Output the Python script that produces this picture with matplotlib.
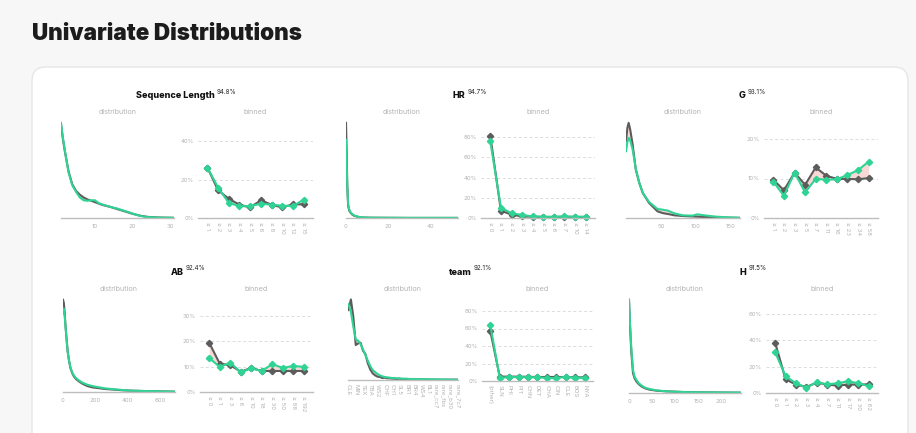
import numpy as np
import matplotlib
matplotlib.use('Agg')
import matplotlib.pyplot as plt
from matplotlib.patches import FancyBboxPatch

plt.rcParams['font.family'] = ['Inter', 'DejaVu Sans']

W, H = 916, 433
GRAY = '#5c5c5c'
GREEN = '#2fd394'
FILL = '#f8d8d4'
LIGHT = '#b3b3b3'

# ---------------- data ----------------
# Sequence Length
seq_x = [1, 1.5, 2, 3, 4, 5, 6, 7, 8, 9, 10, 11, 12, 14, 16, 18, 20, 22, 24, 27, 31]
seq_gray = [1.0, 0.85, 0.72, 0.5, 0.36, 0.29, 0.25, 0.22, 0.2, 0.185, 0.17, 0.155, 0.14,
            0.12, 0.095, 0.07, 0.045, 0.025, 0.012, 0.005, 0.002]
seq_green = [1.02, 0.86, 0.73, 0.49, 0.35, 0.28, 0.22, 0.19, 0.185, 0.19, 0.19, 0.16, 0.145,
             0.12, 0.1, 0.075, 0.048, 0.022, 0.01, 0.004, 0.002]
seq_bins = ['≥ 1', '≥ 2', '≥ 3', '≥ 4', '≥ 5', '≥ 6', '≥ 8', '≥ 10', '≥ 12', '≥ 15']
seq_bin_gray = [26.2, 14.4, 10.0, 6.9, 5.5, 9.2, 6.9, 5.5, 7.1, 7.1]
seq_bin_green = [26.2, 15.8, 7.8, 6.2, 6.1, 7.5, 6.9, 6.4, 6.2, 9.5]

# HR
hr_x = [0, 0.3, 0.6, 1, 1.5, 2, 3, 4, 6, 8, 12, 20, 30, 40, 53]
hr_gray = [1.0, 0.7, 0.35, 0.13, 0.08, 0.06, 0.035, 0.022, 0.01, 0.005, 0.003, 0.002, 0.001, 0.001, 0.001]
hr_green = [0.82, 0.6, 0.33, 0.15, 0.09, 0.065, 0.04, 0.025, 0.012, 0.006, 0.003, 0.002, 0.001, 0.001, 0.001]
hr_bins = ['≥ 0', '≥ 1', '≥ 2', '≥ 3', '≥ 4', '≥ 5', '≥ 6', '≥ 7', '≥ 10', '≥ 14']
hr_bin_gray = [81.0, 7.2, 3.3, 1.6, 1.3, 1.0, 1.0, 1.3, 1.0, 1.0]
hr_bin_green = [75.7, 10.2, 4.6, 3.0, 1.6, 1.3, 1.2, 1.5, 1.3, 1.3]

# G
g_x = [0, 2, 3.8, 6, 9.5, 14, 19, 24, 33, 45, 52, 57, 60, 69, 81, 95, 102, 112, 129, 145, 163]
g_gray = [230, 270, 285, 265, 220, 145, 105, 75, 45, 20, 15, 13, 12, 8, 6, 4.5, 4, 3, 2, 1, 0.5]
g_green = [200, 228, 240, 232, 205, 148, 105, 75, 48, 27, 25, 23, 22, 14, 8, 7, 11, 8, 4, 2, 0.5]
g_bins = ['≥ 1', '≥ 2', '≥ 3', '≥ 5', '≥ 7', '≥ 11', '≥ 16', '≥ 23', '≥ 34', '≥ 58']
g_bin_gray = [9.7, 7.0, 11.5, 8.4, 12.8, 10.7, 9.9, 9.9, 9.8, 10.1]
g_bin_green = [9.2, 5.6, 11.5, 6.5, 9.9, 9.7, 9.8, 10.9, 12.1, 14.3]

# AB
ab_x = [0, 5, 10, 15, 22, 29, 37, 46, 56, 67, 80, 98, 120, 150, 180, 213, 260, 318, 370, 422, 500, 600, 693]
ab_gray = [277, 268, 240, 202, 160, 122, 95, 72, 58, 47, 39, 32, 25, 18, 14, 12, 9, 7, 5, 4, 3, 2, 1]
ab_green = [235, 250, 232, 200, 158, 120, 95, 74, 60, 50, 42, 35, 28, 22, 18, 15, 11, 8, 6, 4, 3, 2, 1]
ab_bins = ['≥ 0', '≥ 1', '≥ 3', '≥ 6', '≥ 10', '≥ 18', '≥ 30', '≥ 50', '≥ 88', '≥ 192']
ab_bin_gray = [19.4, 11.2, 10.6, 8.0, 9.5, 8.3, 8.3, 8.3, 8.3, 8.3]
ab_bin_green = [13.4, 9.9, 11.6, 7.8, 9.3, 8.3, 11.0, 9.5, 10.3, 9.9]

# team
team_labels = ['CLE', 'MIN', 'TEX', 'TBA', 'WS2', 'CHF', 'CH1', 'SL5', 'BR1', 'BR4', 'WS4', 'BL1',
               'rare_cc7', 'rare_fbs', 'rare_b30', 'rare_7c7']
team_gray = [210, 242, 190, 105, 110, 112, 88, 78, 50, 32,
             20, 14, 10, 9, 6, 7, 5, 5, 4, 4,
             3, 4, 3, 3, 2, 3, 2, 2, 2, 2,
             1.5, 1.5, 1.5, 1.5, 1, 1, 1, 1, 1, 1,
             1, 1, 1, 1, 1, 1]
team_green = [228, 205, 160, 122, 118, 108, 92, 75, 58, 42,
              30, 24, 18, 14, 11, 9, 8, 7, 6, 6,
              5, 5, 4, 4, 4, 3, 3, 3, 3, 2.5,
              2.5, 2.5, 2, 2, 2, 2, 2, 1.5, 1.5, 1.5,
              1.5, 1, 1, 1, 1, 1]
team_bins = ['(other)', 'SLN', 'PHI', 'PIT', 'CHN', 'DET', 'CHA', 'CIN', 'CLE', 'BOS', 'NYA']
team_bin_gray = [57, 5, 5, 5, 4.8, 4.6, 4.6, 4.6, 4.6, 4.2, 4.2]
team_bin_green = [64, 3.5, 4.5, 4.5, 4.3, 4.2, 3.5, 3.3, 4.8, 3.8, 3.8]

# H
h_x = [0, 2, 5, 8.7, 12, 16, 21, 27, 35, 45, 60, 81, 100, 117, 150, 200, 243]
h_gray = [283, 210, 125, 60, 45, 35, 27, 20, 14, 10, 7, 5, 4, 3, 2, 1.5, 1]
h_green = [283, 215, 135, 70, 50, 40, 30, 23, 16, 12, 8, 5, 4, 3, 2, 1.5, 1]
h_bins = ['≥ 0', '≥ 1', '≥ 2', '≥ 3', '≥ 4', '≥ 7', '≥ 11', '≥ 17', '≥ 30', '≥ 62']
h_bin_gray = [38.2, 10.4, 6.4, 4.6, 7.9, 6.4, 5.6, 6.4, 6.4, 6.6]
h_bin_green = [31.0, 12.7, 7.4, 4.1, 8.1, 6.6, 7.4, 8.9, 7.4, 5.1]


# ---------------- helpers ----------------
fig = plt.figure(figsize=(W / 100, H / 100), dpi=100)
fig.patch.set_facecolor('#f7f7f7')

bg = fig.add_axes([0, 0, 1, 1], zorder=-1)
bg.set_xlim(0, W)
bg.set_ylim(H, 0)
bg.axis('off')
bg.add_patch(FancyBboxPatch((32, 67), 876, 520, boxstyle='round,pad=0,rounding_size=14',
                            facecolor='white', edgecolor='#e6e6e6', lw=1))
bg.text(32, 40, 'Univariate Distributions', fontsize=16.2, fontweight='black', color='#1c1c1c',
        ha='left', va='baseline')


def px_axes(x0, y0, x1, y1):
    return fig.add_axes([x0 / W, 1 - y1 / H, (x1 - x0) / W, (y1 - y0) / H])


def style_bottom(ax):
    for s in ['top', 'right', 'left']:
        ax.spines[s].set_visible(False)
    ax.spines['bottom'].set_color('#bdbdbd')
    ax.spines['bottom'].set_linewidth(1)
    ax.tick_params(axis='both', length=0, labelsize=4.3, labelcolor=LIGHT)


def draw_dist(box, x, gray, green, xlim, ticks=None, labels=None):
    ax = px_axes(*box)
    ax.fill_between(x, gray, green, color=FILL, lw=0)
    ax.plot(x, gray, color=GRAY, lw=1.5)
    ax.plot(x, green, color=GREEN, lw=1.5)
    ax.set_xlim(*xlim)
    ax.set_ylim(0, max(max(gray), max(green)) * 1.03)
    ax.set_yticks([])
    style_bottom(ax)
    ax.set_xticks(ticks)
    if labels is None:
        ax.set_xticklabels([str(t) for t in ticks])
        ax.tick_params(axis='x', pad=4)
    else:
        ax.set_xticklabels(labels, rotation=270)
        ax.tick_params(axis='x', pad=3)
    return ax


def draw_binned(box, labels, gray, green, yticks):
    x0, gy, x1, by = box
    top = yticks[-1] * 1.1
    ax = px_axes(x0, gy - 0.1 * (by - gy), x1, by)
    xs = np.arange(len(labels))
    ax.fill_between(xs, gray, green, color=FILL, lw=0)
    ax.plot(xs, gray, color=GRAY, lw=1.5, marker='D', ms=3.2, clip_on=False)
    ax.plot(xs, green, color=GREEN, lw=1.5, marker='D', ms=3.2, clip_on=False)
    ax.set_xlim(-0.88, len(labels) - 1 + 0.88)
    ax.set_ylim(0, top)
    ax.set_yticks(yticks)
    ax.set_yticklabels([f'{t}%' for t in yticks])
    ax.yaxis.grid(True, ls=(0, (3, 2.5)), color='#dcdcdc', lw=0.7)
    ax.set_axisbelow(True)
    ax.set_xticks(xs)
    ax.set_xticklabels(labels, rotation=270)
    style_bottom(ax)
    ax.tick_params(axis='y', pad=3)
    ax.tick_params(axis='x', pad=3)
    return ax


def panel_title(cx, y, name, pct):
    t = bg.text(0, y, name, fontsize=6.5, fontweight='heavy', color='#111111', va='baseline')
    s = bg.text(0, y - 4.5, pct, fontsize=4.5, color='#222222', va='baseline')
    r = fig.canvas.get_renderer()
    wt = t.get_window_extent(r).width
    ws = s.get_window_extent(r).width
    left = cx - (wt + 2 + ws) / 2
    t.set_x(left)
    s.set_x(left + wt + 2)


def sub_label(cx, y, text):
    bg.text(cx, y, text, fontsize=5.2, color='#b5b5b5', ha='center', va='baseline')


# ---------------- row 1 ----------------
panel_title(186, 98, 'Sequence Length', '94.8%')
sub_label(117.5, 114, 'distribution')
sub_label(255.5, 114, 'binned')
draw_dist((61, 120, 174, 218), seq_x, seq_gray, seq_green, (1, 31), [10, 20, 30])
draw_binned((198, 141, 313, 218), seq_bins, seq_bin_gray, seq_bin_green, [0, 20, 40])

panel_title(470, 98, 'HR', '94.7%')
sub_label(402, 114, 'distribution')
sub_label(538, 114, 'binned')
draw_dist((346, 120, 458, 218), hr_x, hr_gray, hr_green, (0, 53), [0, 20, 40])
draw_binned((481, 137, 595, 218), hr_bins, hr_bin_gray, hr_bin_green, [0, 20, 40, 60, 80])

panel_title(752, 98, 'G', '93.1%')
sub_label(683, 114, 'distribution')
sub_label(821, 114, 'binned')
draw_dist((626, 120, 740, 218), g_x, g_gray, g_green, (0, 163), [50, 100, 150])
draw_binned((764, 139, 878, 218), g_bins, g_bin_gray, g_bin_green, [0, 10, 20])

# ---------------- row 2 ----------------
panel_title(188, 275, 'AB', '92.4%')
sub_label(119, 291, 'distribution')
sub_label(256.5, 291, 'binned')
draw_dist((63, 297, 175, 392), ab_x, ab_gray, ab_green, (0, 693), [0, 200, 400, 600])
draw_binned((200, 316, 313, 392), ab_bins, ab_bin_gray, ab_bin_green, [0, 10, 20, 30])

panel_title(470, 275, 'team', '92.1%')
sub_label(403, 291, 'distribution')
sub_label(537.5, 291, 'binned')
draw_dist((348, 297, 458, 380), np.arange(len(team_gray)), team_gray, team_green, (-0.2, 45.3),
          np.arange(0, len(team_gray), 3), team_labels)
draw_binned((482, 311, 593, 381), team_bins, team_bin_gray, team_bin_green, [0, 20, 40, 60, 80])

panel_title(753, 275, 'H', '91.5%')
sub_label(685, 291, 'distribution')
sub_label(822, 291, 'binned')
draw_dist((629, 297, 741, 393), h_x, h_gray, h_green, (0, 243), [0, 50, 100, 150, 200])
draw_binned((766, 314, 878, 393), h_bins, h_bin_gray, h_bin_green, [0, 20, 40, 60])

fig.savefig('out.png', dpi=100, facecolor=fig.get_facecolor())
